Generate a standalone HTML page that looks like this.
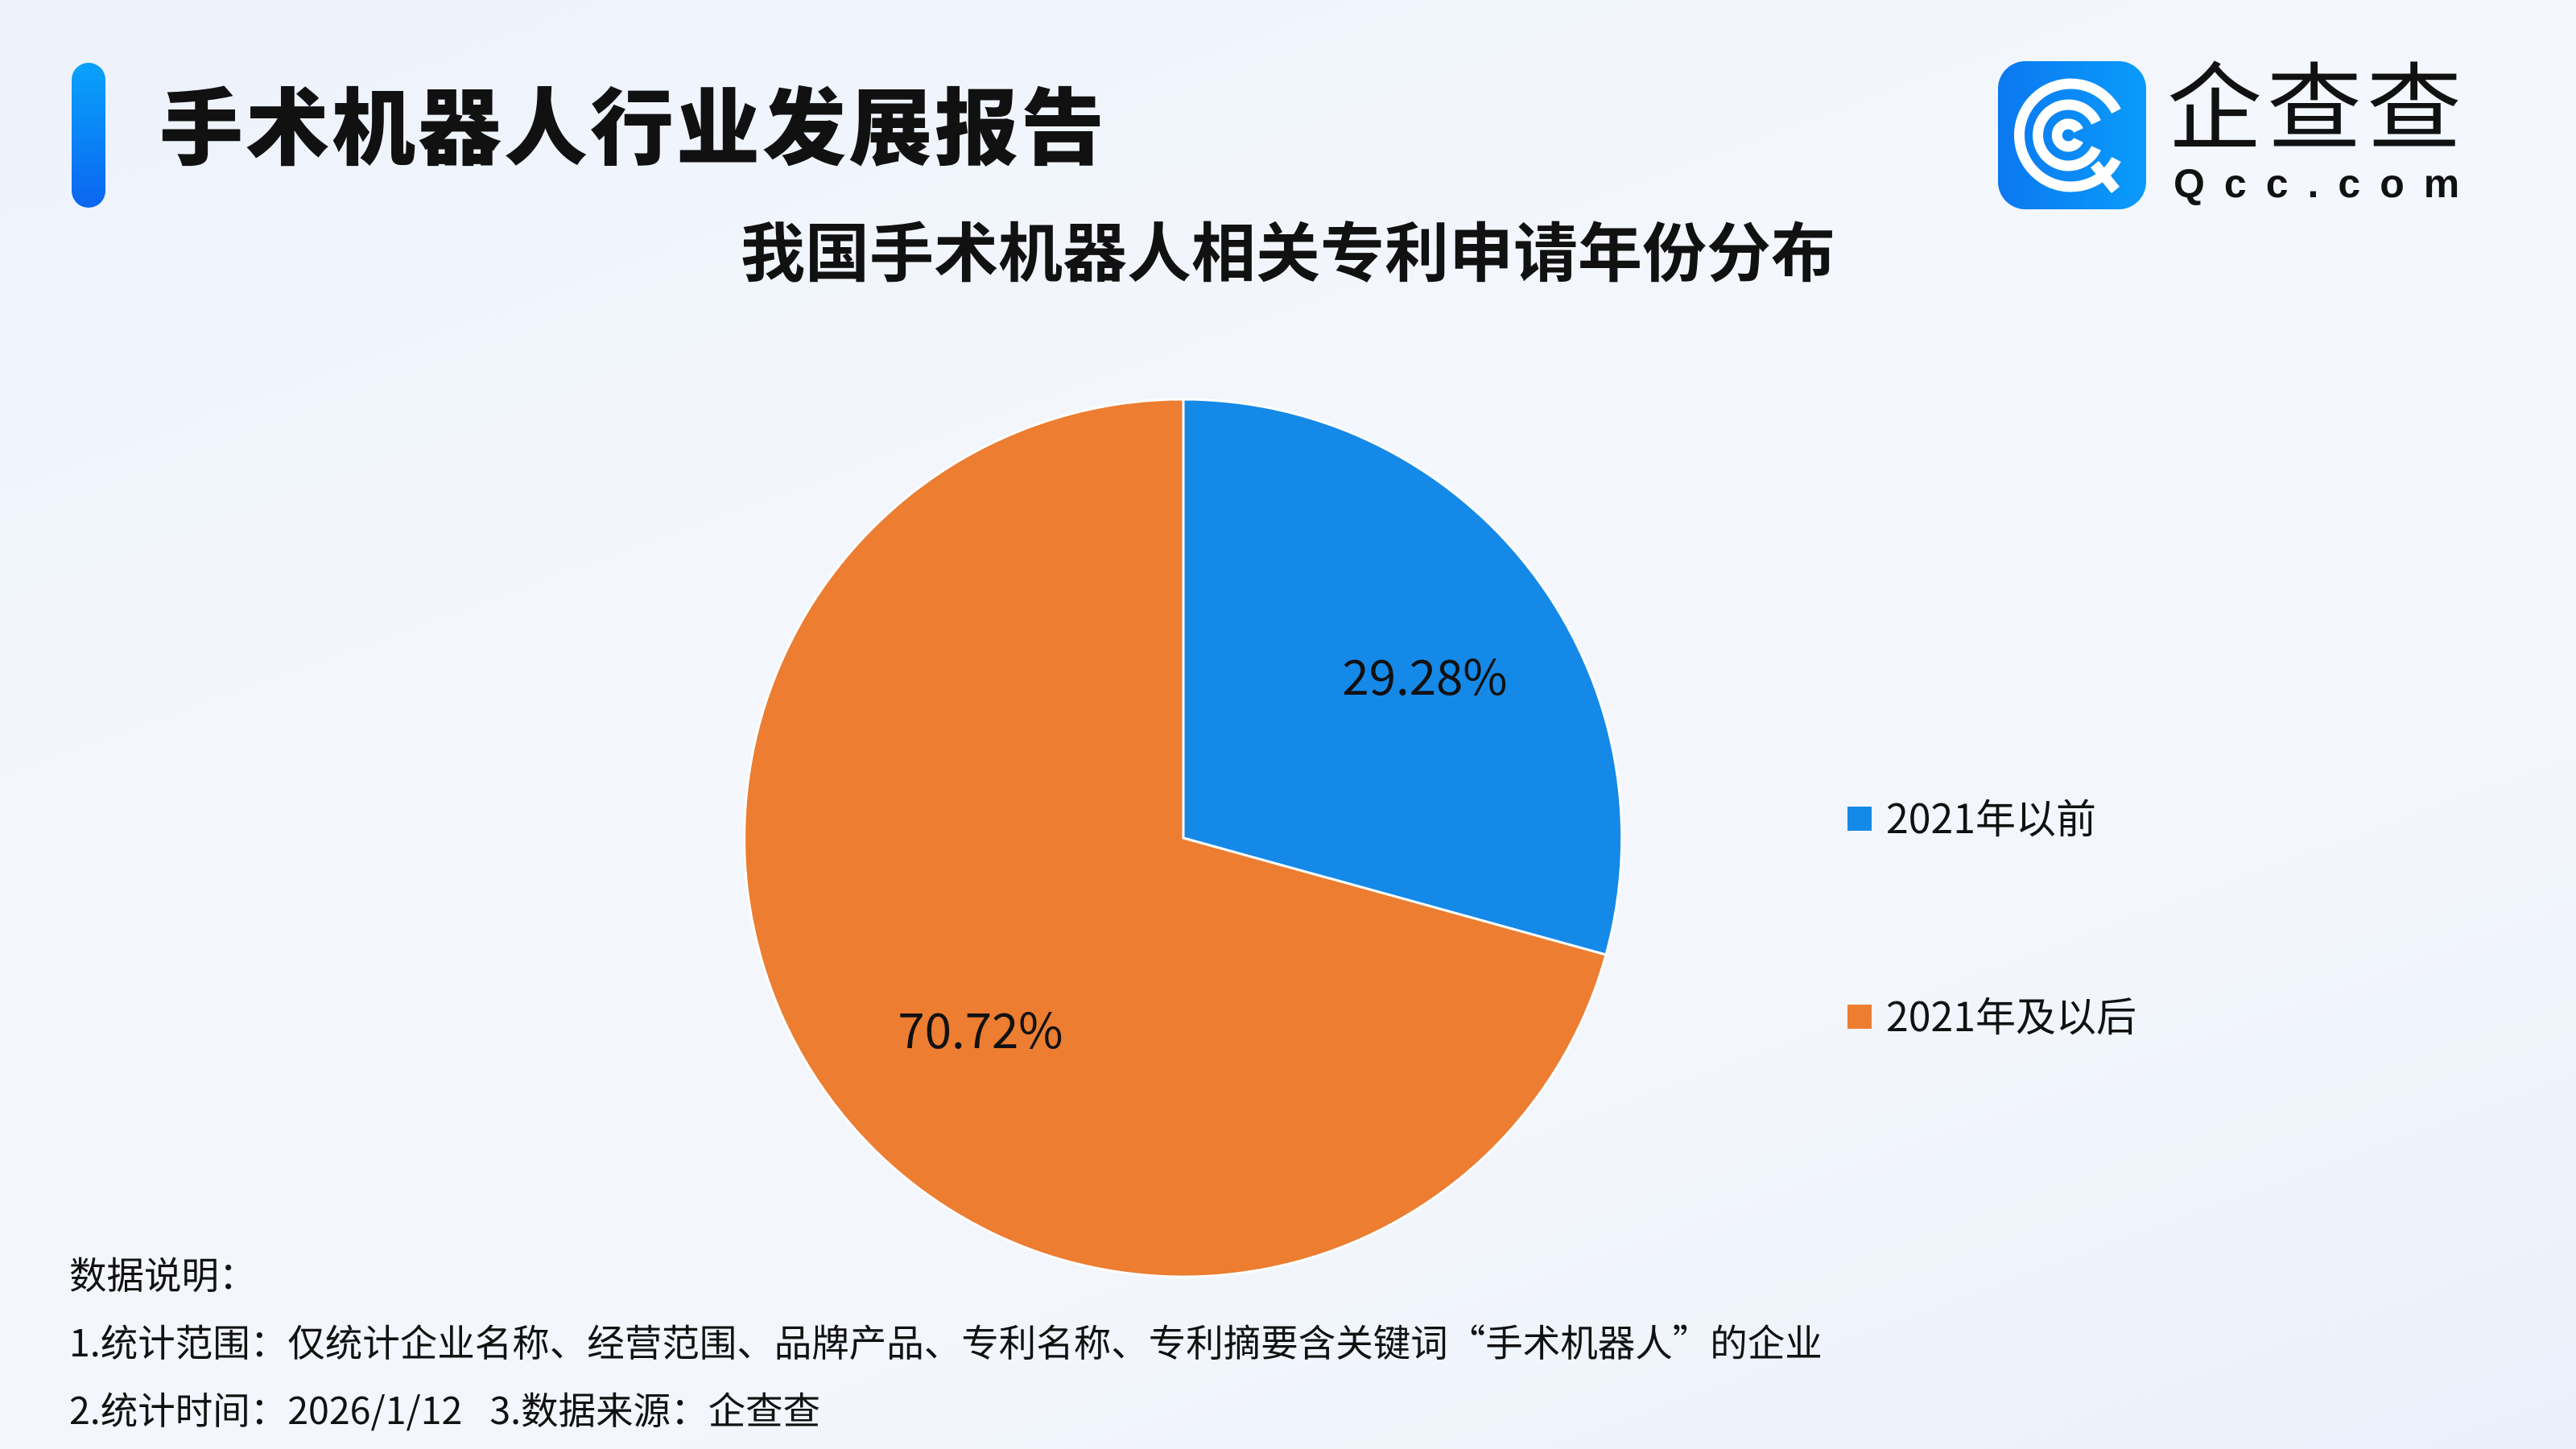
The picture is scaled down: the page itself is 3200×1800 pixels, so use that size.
<!DOCTYPE html>
<html><head><meta charset="utf-8"><style>
html,body{margin:0;padding:0}
body{width:3200px;height:1800px;position:relative;overflow:hidden;font-family:"Liberation Sans","Noto Sans CJK SC",sans-serif;
background:linear-gradient(160deg,#edf2fb 0%,#f4f7fd 40%,#f3f6fc 70%,#eaf0fa 100%);color:#111}
.bar{position:absolute;left:89px;top:78px;width:42px;height:180px;border-radius:21px;background:linear-gradient(#09a2fb,#0a66f0)}
.t1{position:absolute;left:198px;top:96px;font-size:104px;font-weight:900;letter-spacing:3px;line-height:130px;white-space:nowrap}
.t2{position:absolute;left:0;width:3200px;text-align:center;top:266px;font-size:80px;font-weight:700;line-height:100px}
.leg{position:absolute;font-size:50px;line-height:60px;white-space:nowrap;font-family:"Noto Sans CJK SC",sans-serif}
.sq{position:absolute;width:30px;height:30px}
.note{position:absolute;left:86px;font-size:46.5px;line-height:56px;white-space:nowrap;color:#111;font-family:"Noto Sans CJK SC",sans-serif}
</style></head><body>
<div class="bar"></div>
<div class="t1">手术机器人行业发展报告</div>
<svg style="position:absolute;left:2482px;top:76px" width="184" height="184" viewBox="0 0 184 184">
<defs><linearGradient id="g" x1="0" x2="1"><stop offset="0" stop-color="#0b78f0"/><stop offset="1" stop-color="#0a9cfb"/></linearGradient></defs>
<rect width="184" height="184" rx="34" fill="url(#g)"/>
<g fill="none" stroke="#fff" stroke-width="13" stroke-linecap="butt">
<path d="M147 122 A64 64 0 1 1 147 62"/>
<path d="M122 108 A38 38 0 1 1 122 76"/>
<path d="M100 98 A14 14 0 1 1 100 86"/>
<path d="M120 128 L146 160"/>
</g></svg>
<div style="position:absolute;left:2692px;top:74px;font-size:118px;line-height:124px;font-weight:400;letter-spacing:6px;white-space:nowrap">企查查</div>
<div style="position:absolute;left:2700px;top:198px;font-size:50px;line-height:60px;letter-spacing:24px;white-space:nowrap;font-weight:700">Qcc.com</div>
<div class="t2">我国手术机器人相关专利申请年份分布</div>
<svg style="position:absolute;left:0;top:0" width="3200" height="1800">
<path d="M1470 1041 L1470 496 A545 545 0 0 1 1995 1186 Z" fill="#1589e8" stroke="#fff" stroke-width="3"/>
<path d="M1470 1041 L1995 1186 A545 545 0 1 1 1470 496 Z" fill="#ec7d31" stroke="#fff" stroke-width="3"/>
<text x="1770" y="863" font-size="60" text-anchor="middle" font-family="Noto Sans CJK SC, sans-serif" fill="#111">29.28%</text>
<text x="1218" y="1302" font-size="60" text-anchor="middle" font-family="Noto Sans CJK SC, sans-serif" fill="#111">70.72%</text>
</svg>
<div class="sq" style="left:2295px;top:1002px;background:#1589e8"></div>
<div class="leg" style="left:2343px;top:984px">2021年以前</div>
<div class="sq" style="left:2295px;top:1248px;background:#ec7d31"></div>
<div class="leg" style="left:2343px;top:1230px">2021年及以后</div>
<div class="note" style="top:1554px">数据说明：</div>
<div class="note" style="top:1638px">1.统计范围：仅统计企业名称、经营范围、品牌产品、专利名称、专利摘要含关键词“手术机器人”的企业</div>
<div class="note" style="top:1722px">2.统计时间：2026/1/12<span style="display:inline-block;width:34px"></span>3.数据来源：企查查</div>
</body></html>
